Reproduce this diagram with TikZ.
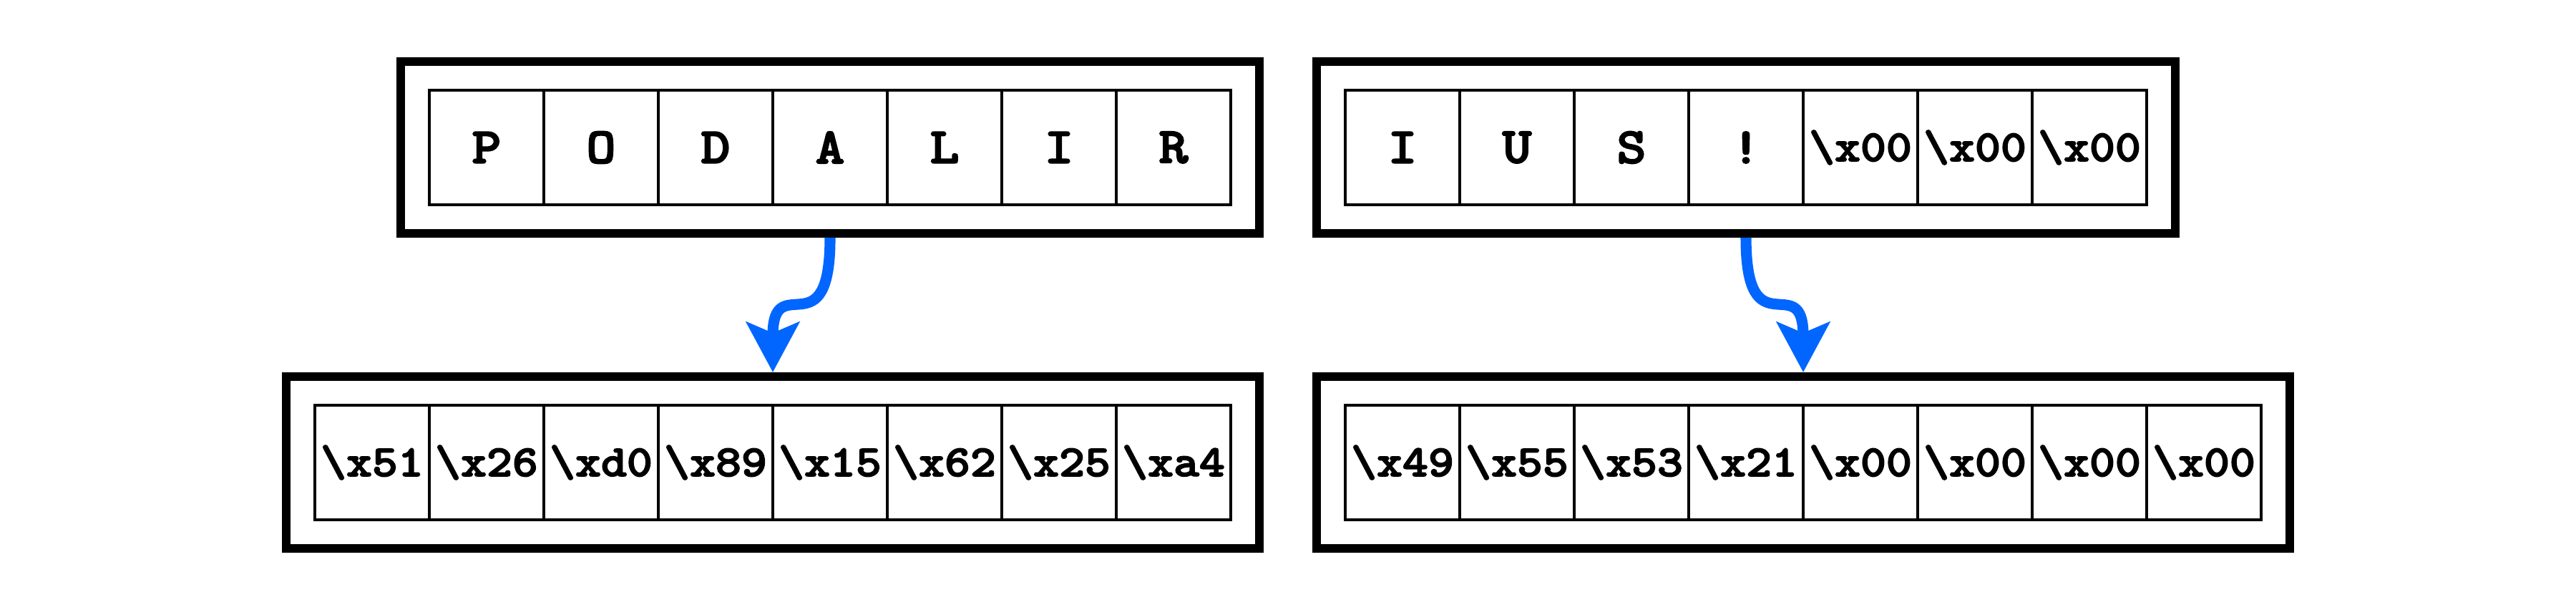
\documentclass[tikz,border=0pt]{standalone}
\usepackage{fontspec}
\usepackage{graphicx}
\newfontfamily\bytefont[FakeBold=2.5]{lmmonolt10-bold.otf}
\usetikzlibrary{arrows.meta,positioning}
\definecolor{edgeblue}{RGB}{0,102,255}
\newcommand{\hexbyte}[1]{\scalebox{1.1}[1]{\textbackslash x#1}}
\newcommand{\onebyte}[1]{\scalebox{1.1}[1]{#1}}

\begin{document}
\begin{tikzpicture}[>={Stealth[length=15.75pt,width=16.6pt,inset=3.4pt]},
                    node distance=36pt,x=1pt,y=1pt]
  \tikzstyle{outerbox}=[draw=black,line width=2.7pt,minimum height=54pt,inner sep=0pt]
  \tikzstyle{bytecell}=[draw=black,line width=0.9pt,minimum size=36pt,inner sep=0pt,
                        font=\fontsize{16}{16}\selectfont\bytefont]
  \tikzstyle{hexcell}=[bytecell,font=\fontsize{14}{14}\selectfont\bytefont]
  \useasboundingbox (0,0) rectangle (810,-191.7);

  % plaintext blocks
  \node[outerbox,minimum width=270pt] (A) at (261,-46.35) {};
  \node[outerbox,minimum width=270pt] (B) at (549,-46.35) {};
  % encrypted blocks
  \node[outerbox,minimum width=306pt] (C) at (243,-145.35) {};
  \node[outerbox,minimum width=306pt] (D) at (567,-145.35) {};

  \node[bytecell] (a1) at (153,-46.35) {\onebyte{P}};
  \node[bytecell] (a2) [right of=a1] {\onebyte{O}};
  \node[bytecell] (a3) [right of=a2] {\onebyte{D}};
  \node[bytecell] (a4) [right of=a3] {\onebyte{A}};
  \node[bytecell] (a5) [right of=a4] {\onebyte{L}};
  \node[bytecell] (a6) [right of=a5] {\onebyte{I}};
  \node[bytecell] (a7) [right of=a6] {\onebyte{R}};

  \node[bytecell] (b1) at (441,-46.35) {\onebyte{I}};
  \node[bytecell] (b2) [right of=b1] {\onebyte{U}};
  \node[bytecell] (b3) [right of=b2] {\onebyte{S}};
  \node[bytecell] (b4) [right of=b3] {\onebyte{!}};
  \node[hexcell]  (b5) [right of=b4] {\hexbyte{00}};
  \node[hexcell]  (b6) [right of=b5] {\hexbyte{00}};
  \node[hexcell]  (b7) [right of=b6] {\hexbyte{00}};

  \node[hexcell] (c1) at (117,-145.35) {\hexbyte{51}};
  \node[hexcell] (c2) [right of=c1] {\hexbyte{26}};
  \node[hexcell] (c3) [right of=c2] {\hexbyte{d0}};
  \node[hexcell] (c4) [right of=c3] {\hexbyte{89}};
  \node[hexcell] (c5) [right of=c4] {\hexbyte{15}};
  \node[hexcell] (c6) [right of=c5] {\hexbyte{62}};
  \node[hexcell] (c7) [right of=c6] {\hexbyte{25}};
  \node[hexcell] (c8) [right of=c7] {\hexbyte{a4}};

  \node[hexcell] (d1) at (441,-145.35) {\hexbyte{49}};
  \node[hexcell] (d2) [right of=d1] {\hexbyte{55}};
  \node[hexcell] (d3) [right of=d2] {\hexbyte{53}};
  \node[hexcell] (d4) [right of=d3] {\hexbyte{21}};
  \node[hexcell] (d5) [right of=d4] {\hexbyte{00}};
  \node[hexcell] (d6) [right of=d5] {\hexbyte{00}};
  \node[hexcell] (d7) [right of=d6] {\hexbyte{00}};
  \node[hexcell] (d8) [right of=d7] {\hexbyte{00}};

  \path[->,edgeblue,line width=3.4pt]
        (A) edge [out=-90,in=90,out distance=36pt,in distance=33pt] (C)
        (B) edge [out=-90,in=90,out distance=36pt,in distance=33pt] (D);
\end{tikzpicture}
\end{document}
